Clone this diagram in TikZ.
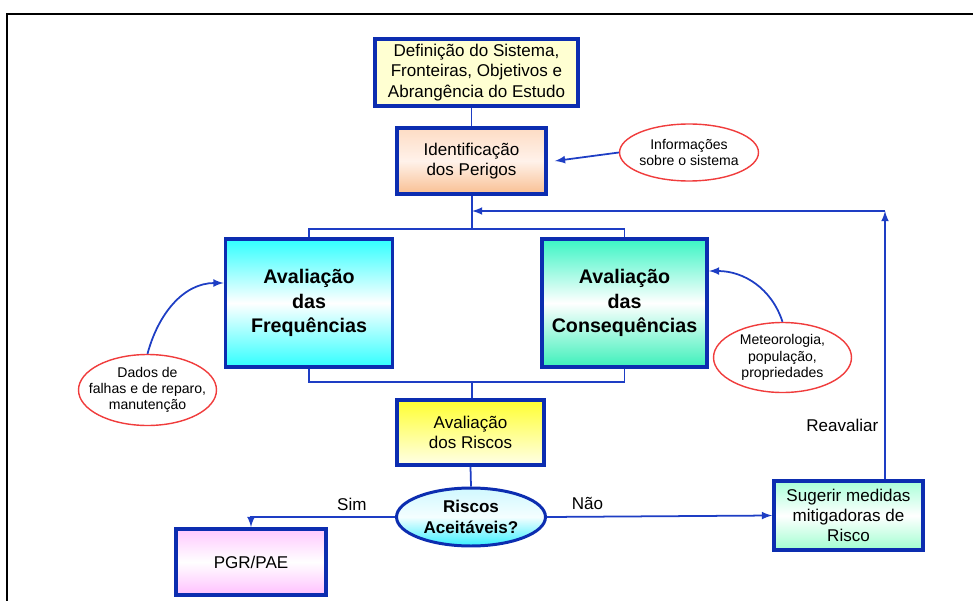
\documentclass[tikz,border=0pt]{standalone}
\usepackage{fontspec}
\setmainfont{Liberation Sans}
\usetikzlibrary{shapes,arrows,positioning,calc}
\definecolor{frameblue}{HTML}{0C2DB0}
\definecolor{lineblue}{HTML}{1E3EC4}
\definecolor{notered}{HTML}{F03C3C}
\definecolor{paleyellow}{HTML}{FFFFD2}

\begin{document}
\begin{tikzpicture}[x=0.02cm, y=-0.02cm,
    font=\fontsize{9.7}{11.6}\selectfont,
    stagebox/.style={draw=frameblue, line width=2.2pt, rectangle, align=center, inner sep=2pt},
    bigstage/.style={stagebox, font=\fontsize{11.2}{13.9}\selectfont\bfseries, minimum height=2.56cm},
    infonote/.style={draw=notered, line width=0.8pt, ellipse, fill=white, align=center, inner xsep=-12pt, inner ysep=-3pt, font=\fontsize{8}{9.2}\selectfont},
    flowline/.style={draw=lineblue, line width=1pt},
    flowarrow/.style={flowline, -latex}]
    \useasboundingbox (0,0) rectangle (973,601);
    \draw[line width=1.2pt] (7,601) -- (7,14) -- (973,14);

    \node (def) [stagebox, fill=paleyellow, minimum width=4.06cm, minimum height=1.34cm] at (476.5,72.5) {Definição do Sistema,\\
    Fronteiras, Objetivos e\\
    Abrangência do Estudo};

    \node (ident) [stagebox, top color={rgb,255:red,253;green,220;blue,196}, bottom color={rgb,255:red,249;green,191;blue,146}, middle color={rgb,255:red,255;green,242;blue,234}, minimum width=2.98cm, minimum height=1.32cm] at (471.5,161) {Identificação\\
    dos Perigos};

    \node (info) [infonote, minimum width=2.78cm, minimum height=1.14cm] at (689,152.5) {Informações\\
    sobre o sistema};

    \node (freq) [bigstage, top color={rgb,255:red,48;green,255;blue,255}, bottom color={rgb,255:red,48;green,255;blue,255}, middle color=white, minimum width=3.34cm] at (309,303) {Avaliação\\
    das\\
    Frequências};

    \node (cons) [bigstage, top color={rgb,255:red,58;green,245;blue,196}, bottom color={rgb,255:red,60;green,240;blue,186}, middle color=white, minimum width=3.30cm] at (624.5,303) {Avaliação\\
    das\\
    Consequências};

    \node (dados) [infonote, minimum width=2.76cm, minimum height=1.42cm] at (147.5,390) {Dados de\\
    falhas e de reparo,\\
    manutenção};

    \node (meteo) [infonote, minimum width=2.76cm, minimum height=1.40cm] at (782.5,357.5) {Meteorologia,\\
    população,\\
    propriedades};

    \node (risk) [stagebox, top color={rgb,255:red,255;green,255;blue,48}, bottom color={rgb,255:red,255;green,255;blue,232}, minimum width=2.94cm, minimum height=1.30cm] at (470.5,432.5) {Avaliação\\
    dos Riscos};

    \node (accept) [draw=frameblue, line width=1.7pt, ellipse, align=center, inner sep=0pt, font=\fontsize{9.7}{11.6}\selectfont\bfseries, top color={rgb,255:red,208;green,248;blue,255}, bottom color={rgb,255:red,56;green,240;blue,255}, middle color={rgb,255:red,244;green,254;blue,255}, minimum width=2.98cm, minimum height=1.16cm] at (471,517) {Riscos\\
    Aceitáveis?};

    \node (pgr) [stagebox, top color={rgb,255:red,255;green,200;blue,255}, bottom color={rgb,255:red,255;green,192;blue,255}, middle color=white, minimum width=3.0cm, minimum height=1.32cm] at (251,562) {PGR/PAE};

    \node (sug) [stagebox, top color={rgb,255:red,168;green,255;blue,216}, bottom color={rgb,255:red,160;green,255;blue,208}, middle color=white, minimum width=2.98cm, minimum height=1.38cm] at (848.5,515.5) {Sugerir medidas\\
    mitigadoras de\\
    Risco};

    \coordinate (topfork) at (472,229);
    \coordinate (botfork) at (472,382);
    \coordinate (back) at (885,211);

    \draw [flowline] (ident.north) -- (ident.north |- def.south);
    \draw [flowarrow] (info.west) -- ([xshift=0.14cm]ident.east);
    \draw [flowline] (topfork |- ident.south) -- (topfork);
    \draw [flowline] (freq.north) |- (topfork) -| (cons.north);
    \draw [flowline] (freq.south) |- (botfork) -| (cons.south);
    \draw [flowline] (botfork) -- (botfork |- risk.north);
    \draw [flowline] (risk.south) -- (accept.north);
    \draw [flowarrow] (dados.north) to[out=75, in=180] ([yshift=0.4cm]freq.west);
    \draw [flowarrow] (meteo.north) to[out=108, in=0] ([yshift=0.64cm]cons.east);
    \draw [flowarrow] (accept.west) -| node[pos=0.15, above] {Sim} (pgr.north);
    \draw [flowarrow] (accept.east) -- node[pos=0.18, above] {Não} (sug.west);
    \draw [flowarrow] (back |- sug.north) -- node[pos=0.2, left] {Reavaliar} (back);
    \draw [flowarrow] (back) -- (topfork |- back);

\end{tikzpicture}
\end{document}
